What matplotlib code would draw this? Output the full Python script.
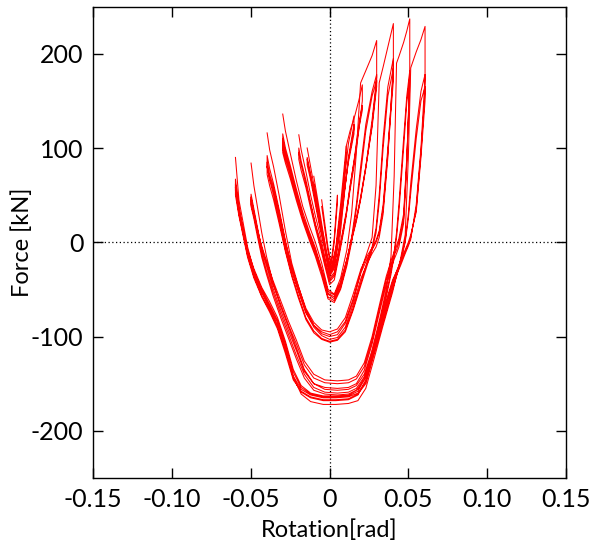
import matplotlib.pyplot as plt

# rotation vertices per amplitude level, left peak -> right peak
rot_005 = [-0.005, -0.003, -0.001, 0.001, 0.003, 0.005]
rot_010 = [-0.010, -0.008, -0.005, -0.002, 0.001, 0.004, 0.007, 0.0106]
rot_015 = [-0.0142, -0.012, -0.009, -0.006, -0.003, 0.000, 0.003, 0.006, 0.009, 0.012, 0.0155]
rot_020 = [-0.0195, -0.018, -0.015, -0.012, -0.009, -0.006, -0.003, 0.000, 0.003, 0.006,
           0.009, 0.0106, 0.013, 0.016, 0.0185, 0.0208]
rot_030 = [-0.0297, -0.028, -0.025, -0.021, -0.017, -0.013, -0.009, -0.005, -0.001, 0.003,
           0.007, 0.011, 0.014, 0.017, 0.0197, 0.023, 0.027, 0.0299]
rot_040 = [-0.0396, -0.038, -0.0355, -0.032, -0.028, -0.024, -0.020, -0.015, -0.010, -0.005,
           0.000, 0.005, 0.010, 0.015, 0.020, 0.024, 0.027, 0.0295, 0.0315, 0.034, 0.037, 0.0405]
rot_050 = [-0.0498, -0.048, -0.046, -0.043, -0.040, -0.036, -0.031, -0.026, -0.021, -0.016,
           -0.010, -0.003, 0.005, 0.012, 0.017, 0.022, 0.027, 0.032, 0.036, 0.039, 0.041,
           0.0425, 0.044, 0.047, 0.049, 0.0509]
rot_060 = [-0.0597, -0.0575, -0.055, -0.052, -0.048, -0.043, -0.038, -0.033, -0.028, -0.023,
           -0.018, -0.012, -0.004, 0.004, 0.012, 0.018, 0.023, 0.028, 0.034, 0.040, 0.045,
           0.048, 0.050, 0.0515, 0.055, 0.058, 0.0606]

# force [kN] on each half cycle (same vertices as the rotation list)
force_005 = [
    [45, 20, -5, -22, 5, 50],
    [38, 14, -10, -25, 0, 42],
]
force_010 = [
    [70, 50, 20, -10, -28, -5, 40, 102],
    [62, 44, 14, -14, -30, -10, 30, 90],
    [58, 40, 10, -16, -32, -12, 28, 95],
    [60, 42, 12, -12, -29, -8, 32, 88],
]
force_015 = [
    [100, 80, 52, 25, 0, -30, -22, 15, 60, 105, 134],
    [90, 72, 45, 18, -5, -34, -26, 8, 48, 88, 120],
    [82, 66, 40, 14, -8, -36, -28, 5, 45, 90, 125],
    [88, 70, 44, 17, -4, -32, -24, 10, 50, 85, 115],
]
force_020 = [
    [114, 98, 75, 50, 28, 8, -15, -38, -32, -5, 45, 102, 118, 134, 150, 167],
    [100, 86, 66, 42, 20, 2, -20, -42, -36, -12, 15, 30, 55, 85, 118, 150],
    [88, 76, 58, 36, 15, -4, -25, -45, -40, -15, 12, 28, 58, 92, 125, 145],
    [95, 82, 62, 40, 18, 0, -22, -40, -34, -10, 18, 32, 60, 90, 120, 140],
]
force_030 = [
    [136, 118, 95, 65, 38, 18, 0, -22, -50, -55, -38, -8, 30, 95, 169, 182, 198, 214],
    [115, 100, 82, 56, 32, 12, -6, -28, -52, -56, -42, -18, 5, 25, 48, 80, 130, 175],
    [100, 88, 72, 48, 25, 6, -12, -32, -58, -62, -48, -22, 5, 40, 80, 125, 160, 178],
    [110, 96, 78, 52, 28, 9, -8, -30, -55, -60, -45, -20, 2, 22, 45, 78, 125, 170],
    [95, 84, 68, 44, 22, 3, -15, -36, -60, -64, -50, -25, 0, 35, 72, 118, 155, 172],
    [105, 92, 75, 50, 26, 7, -10, -30, -54, -58, -44, -18, 3, 24, 46, 80, 122, 165],
]
force_040 = [
    [116, 98, 80, 50, 12, -22, -45, -72, -88, -97, -100, -98, -86, -62, -30, -10, 5, 60, 169, 186, 207, 232],
    [92, 78, 62, 35, 2, -28, -50, -75, -90, -99, -103, -101, -90, -66, -38, -22, -12, -5, 5, 30, 90, 190],
    [80, 66, 50, 24, -8, -34, -55, -80, -94, -102, -105, -103, -93, -70, -42, -20, -5, 15, 50, 110, 165, 195],
    [85, 72, 58, 32, 0, -26, -46, -70, -85, -93, -95, -92, -80, -55, -28, -14, -6, 2, 12, 40, 100, 180],
    [72, 60, 45, 20, -10, -36, -58, -82, -96, -103, -106, -104, -95, -72, -45, -24, -8, 10, 42, 100, 155, 185],
    [80, 68, 54, 28, -3, -30, -50, -74, -88, -95, -98, -95, -84, -60, -32, -17, -8, 0, 10, 35, 95, 172],
]
force_050 = [
    [84, 60, 40, 10, -15, -42, -68, -90, -112, -135, -150, -156, -157, -156, -152, -140, -115, -80, -50,
     -15, 70, 190, 197, 212, 224, 237],
    [51, 35, 18, -8, -25, -48, -72, -94, -115, -137, -150, -154, -155, -154, -150, -136, -108, -72, -45,
     -28, -18, -12, -5, 20, 80, 185],
    [40, 28, 12, -12, -30, -52, -76, -98, -120, -140, -154, -159, -160, -159, -155, -143, -118, -84, -55,
     -30, -10, 10, 40, 110, 155, 182],
    [48, 32, 16, -6, -22, -44, -66, -88, -108, -130, -144, -149, -150, -149, -145, -132, -104, -68, -40,
     -24, -14, -8, 0, 25, 85, 172],
    [38, 25, 8, -16, -34, -56, -80, -102, -124, -144, -157, -161, -162, -161, -157, -146, -122, -88, -58,
     -34, -14, 5, 32, 100, 148, 175],
    [45, 30, 14, -4, -20, -40, -62, -84, -104, -126, -140, -146, -147, -146, -142, -128, -100, -64, -36,
     -20, -10, -4, 4, 30, 90, 165],
]
force_060 = [
    [90, 45, 22, -5, -30, -52, -68, -85, -112, -143, -161, -169, -172, -172, -171, -168, -155, -125, -88,
     -53, -18, 8, 90, 185, 202, 215, 229],
    [67, 38, 14, -12, -33, -54, -70, -88, -114, -144, -159, -165, -168, -168, -167, -162, -146, -114, -78,
     -44, -25, -12, -4, 3, 40, 100, 175],
    [55, 30, 10, -14, -36, -57, -72, -90, -115, -142, -156, -162, -165, -165, -164, -160, -148, -118, -82,
     -48, -20, 2, 30, 62, 120, 160, 178],
    [62, 35, 16, -8, -28, -48, -63, -80, -105, -135, -152, -160, -163, -163, -162, -156, -140, -108, -72,
     -40, -22, -10, -2, 5, 35, 95, 160],
    [50, 28, 8, -16, -38, -58, -74, -92, -118, -146, -158, -164, -167, -167, -166, -161, -150, -120, -85,
     -50, -22, 0, 25, 52, 110, 150, 165],
    [58, 33, 12, -10, -30, -50, -66, -83, -108, -138, -154, -161, -164, -164, -163, -158, -143, -112, -76,
     -42, -20, -8, 0, 8, 32, 90, 150],
]

levels = [(rot_005, force_005), (rot_010, force_010), (rot_015, force_015), (rot_020, force_020),
          (rot_030, force_030), (rot_040, force_040), (rot_050, force_050), (rot_060, force_060)]

plt.rcParams['font.family'] = ['Lato', 'DejaVu Sans']
plt.rcParams['axes.unicode_minus'] = False
fig = plt.figure(figsize=(5.97, 5.5), dpi=100)
ax = fig.add_axes([0.156, 0.131, 0.792, 0.857])

ax.axhline(0, color='black', lw=0.9, ls=(0, (1, 2)), zorder=1)
ax.axvline(0, color='black', lw=0.9, ls=(0, (1, 2)), zorder=1)

for rot, halves in levels:
    xs, ys = [], []
    for i, f in enumerate(halves):
        if i % 2 == 0:
            xs += rot
            ys += f
        else:
            xs += rot[::-1]
            ys += f[::-1]
    ax.plot(xs, ys, color='red', lw=0.75, zorder=2)

ax.set_xlim(-0.15, 0.15)
ax.set_ylim(-250, 250)
ax.set_xticks([-0.15, -0.10, -0.05, 0, 0.05, 0.10, 0.15])
ax.set_xticklabels(['-0.15', '-0.10', '-0.05', '0', '0.05', '0.10', '0.15'])
ax.set_yticks([-200, -100, 0, 100, 200])
ax.tick_params(direction='in', length=7, width=1, top=True, right=True, labelsize=18, pad=7)
for s in ax.spines.values():
    s.set_linewidth(1)
ax.set_xlabel('Rotation[rad]', fontsize=17)
ax.set_ylabel('Force [kN]', fontsize=17)
ax.xaxis.set_label_coords(0.5, -0.088)
ax.yaxis.set_label_coords(-0.127, 0.5)

fig.savefig('out.png', dpi=100)
